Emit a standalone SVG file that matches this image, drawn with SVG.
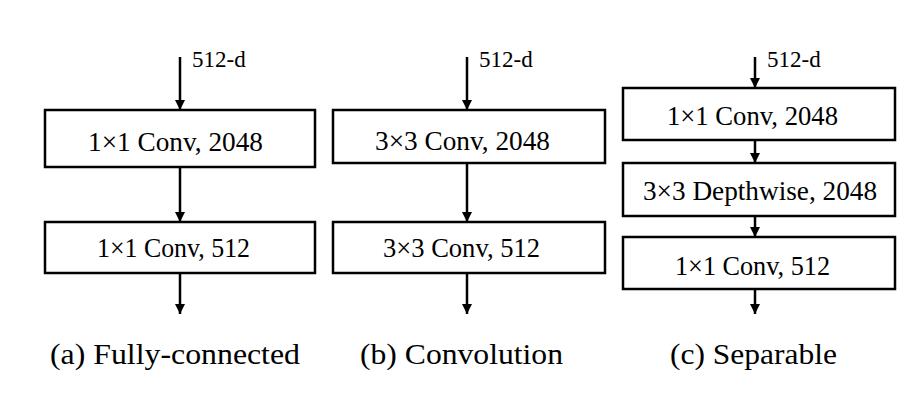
<svg xmlns="http://www.w3.org/2000/svg" width="914" height="410" viewBox="0 0 914 410">
<defs>
<marker id="ah" viewBox="0 0 10 10" refX="10" refY="5" markerWidth="11" markerHeight="10" markerUnits="userSpaceOnUse" orient="auto">
<path d="M0,0 L10,5 L0,10 z" fill="#000"/>
</marker>
<style>
.box{fill:#fff;stroke:#000;stroke-width:2.5}
.lbl{font-size:27px;fill:#000;text-anchor:middle}
.dim{font-size:23px;fill:#000}
.cap{font-size:30px;fill:#000;text-anchor:middle}
.ln{stroke:#000;stroke-width:2.5;fill:none;marker-end:url(#ah)}
</style>
</defs>
<rect width="914" height="410" fill="#fff"/>
<g id="connectors">
<line class="ln" x1="180" y1="57" x2="180" y2="110"/>
<line class="ln" x1="180" y1="167" x2="180" y2="222"/>
<line class="ln" x1="180" y1="273" x2="180" y2="314"/>
<line class="ln" x1="467" y1="57" x2="467" y2="110"/>
<line class="ln" x1="467" y1="163" x2="467" y2="222"/>
<line class="ln" x1="467" y1="273" x2="467" y2="314"/>
<line class="ln" x1="755" y1="57" x2="755" y2="88"/>
<line class="ln" x1="755" y1="140" x2="755" y2="163"/>
<line class="ln" x1="755" y1="216" x2="755" y2="237"/>
<line class="ln" x1="755" y1="289" x2="755" y2="314"/>
</g>
<g id="dims" font-family="Liberation Serif, Times New Roman, serif">
<text class="dim" x="192" y="67">512-d</text>
<text class="dim" x="479" y="67">512-d</text>
<text class="dim" x="767" y="67">512-d</text>
</g>
<g id="nodes" font-family="Liberation Serif, Times New Roman, serif">
<g id="a1"><rect class="box" x="45" y="110" width="270" height="57"/><text class="lbl" x="175.5" y="151" textLength="175" lengthAdjust="spacingAndGlyphs">1×1 Conv, 2048</text></g>
<g id="a2"><rect class="box" x="45" y="222" width="270" height="51"/><text class="lbl" x="173.5" y="257" textLength="153" lengthAdjust="spacingAndGlyphs">1×1 Conv, 512</text></g>
<g id="b1"><rect class="box" x="333" y="110" width="272" height="53"/><text class="lbl" x="462.5" y="150" textLength="175" lengthAdjust="spacingAndGlyphs">3×3 Conv, 2048</text></g>
<g id="b2"><rect class="box" x="333" y="222" width="272" height="51"/><text class="lbl" x="461.5" y="257" textLength="157" lengthAdjust="spacingAndGlyphs">3×3 Conv, 512</text></g>
<g id="c1"><rect class="box" x="623" y="88" width="272" height="52"/><text class="lbl" x="752.5" y="125" textLength="171" lengthAdjust="spacingAndGlyphs">1×1 Conv, 2048</text></g>
<g id="c2"><rect class="box" x="623" y="163" width="272" height="53"/><text class="lbl" x="760" y="200" textLength="234" lengthAdjust="spacingAndGlyphs">3×3 Depthwise, 2048</text></g>
<g id="c3"><rect class="box" x="623" y="237" width="272" height="52"/><text class="lbl" x="752.5" y="275" textLength="155" lengthAdjust="spacingAndGlyphs">1×1 Conv, 512</text></g>
</g>
<g id="captions" font-family="Liberation Serif, Times New Roman, serif">
<text class="cap" x="175" y="364" textLength="250" lengthAdjust="spacingAndGlyphs">(a) Fully-connected</text>
<text class="cap" x="461.5" y="364" textLength="203" lengthAdjust="spacingAndGlyphs">(b) Convolution</text>
<text class="cap" x="753.5" y="364" textLength="167" lengthAdjust="spacingAndGlyphs">(c) Separable</text>
</g>
</svg>
